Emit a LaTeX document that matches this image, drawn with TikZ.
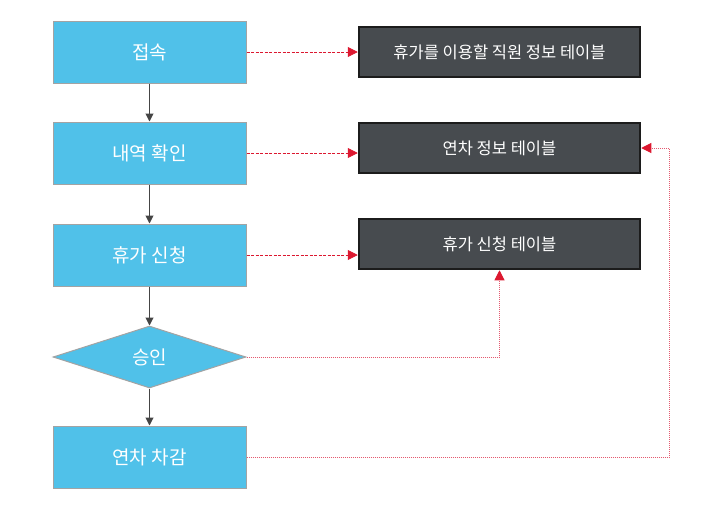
\documentclass[tikz,border=0pt]{standalone}
\usepackage{fontspec}
\setmainfont{Noto Sans CJK KR}
\usetikzlibrary{arrows.meta,shapes.geometric}
\definecolor{stepblue}{HTML}{50C1E9}
\definecolor{stepedge}{HTML}{A3A3A3}
\definecolor{tabfill}{HTML}{474B4F}
\definecolor{tabedge}{HTML}{1C1C1C}
\definecolor{linkred}{HTML}{DC1830}
\definecolor{looppink}{HTML}{E45A70}
\definecolor{flowgray}{HTML}{454545}
\begin{document}
\begin{tikzpicture}[x=1pt,y=-1pt,
  stepbox/.style={draw=stepedge,line width=1pt,fill=stepblue,text=white,minimum width=193pt,minimum height=62pt,inner sep=0pt,font=\fontsize{19}{21}\selectfont},
  decide/.style={stepbox,diamond,aspect=3.1},
  tabbox/.style={draw=tabedge,line width=2.5pt,fill=tabfill,text=white,minimum width=281pt,minimum height=50pt,inner sep=0pt,font=\fontsize{16.5}{18}\selectfont},
  flow/.style={draw=flowgray,line width=1pt,-{Triangle[length=8pt,width=8pt]}},
  link/.style={draw=linkred,line width=0.8pt,dash pattern=on 3pt off 1.5pt,-{Triangle[length=10pt,width=10pt]}},
  loopline/.style={draw=looppink,line width=1pt,dash pattern=on 1pt off 1pt,-{Triangle[length=10pt,width=10pt,color=linkred]}}]
\useasboundingbox (0,0) rectangle (710,528);
\node[stepbox] (connect) at (149.5,52) {접속};
\node[stepbox] (history) at (149.5,153) {내역 확인};
\node[stepbox] (apply) at (149.5,255) {휴가 신청};
\node[decide,minimum width=193pt,minimum height=62pt] (approve) at (149.5,357) {승인};
\node[stepbox] (deduct) at (149.5,457) {연차 차감};
\node[tabbox] (emptab) at (499.5,52) {휴가를 이용할 직원 정보 테이블};
\node[tabbox] (annualtab) at (499.5,148) {연차 정보 테이블};
\node[tabbox] (leavetab) at (499.5,244) {휴가 신청 테이블};
\draw[flow] (connect) -- (history);
\draw[flow] (history) -- (apply);
\draw[flow] (apply) -- (approve);
\draw[flow] (approve) -- (deduct);
\draw[link] (connect.east) -- (emptab.west);
\draw[link] (history.east) -- (history.east -| annualtab.west);
\draw[link] (apply.east) -- (apply.east -| leavetab.west);
\draw[loopline] (approve.east) -| (leavetab.south);
\draw[loopline] (deduct.east) -| ([xshift=28pt]annualtab.east) -- (annualtab.east);
\end{tikzpicture}
\end{document}
